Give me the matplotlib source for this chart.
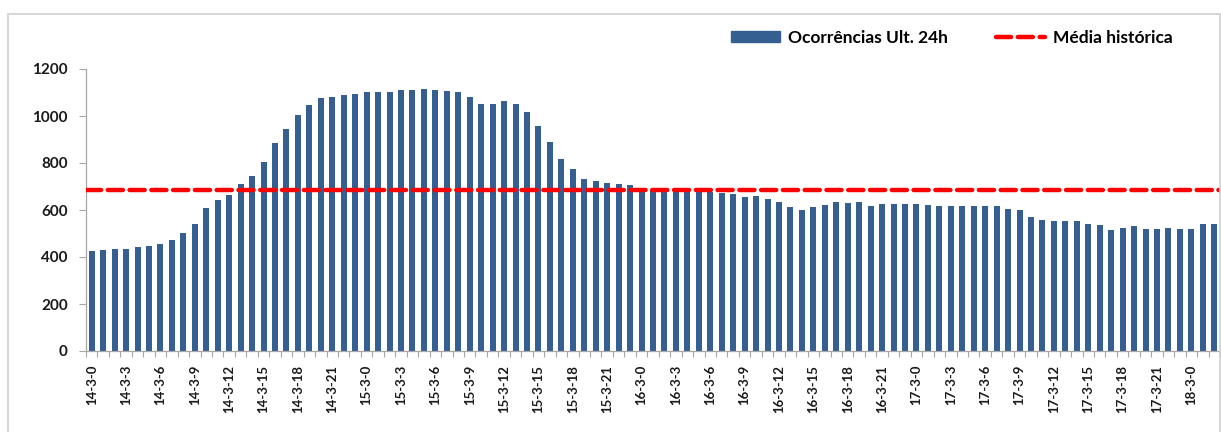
import matplotlib
matplotlib.use("Agg")
import matplotlib.pyplot as plt
from matplotlib.patches import Rectangle
from matplotlib.lines import Line2D

plt.rcParams['font.family'] = ['Lato', 'DejaVu Sans']

# Hourly occurrences over the last 24h, starting 14-3 at 0h
start_day = 14
month = 3
occurrences = [
    427, 431, 435, 435, 444, 448, 457, 471, 501, 540,
    610, 641, 664, 709, 746, 803, 884, 946, 1004, 1048,
    1075, 1082, 1088, 1092, 1103, 1103, 1103, 1109, 1109, 1113,
    1109, 1105, 1101, 1081, 1051, 1051, 1064, 1051, 1016, 959,
    891, 818, 774, 731, 722, 714, 712, 708, 692, 685,
    689, 683, 683, 675, 678, 673, 666, 657, 661, 646,
    633, 612, 600, 612, 620, 632, 629, 633, 617, 625,
    625, 625, 625, 621, 616, 616, 616, 616, 616, 616,
    604, 600, 572, 556, 552, 552, 552, 540, 535, 515,
    523, 530, 519, 519, 523, 519, 519, 539, 539,
]
historical_mean = 683

hours = list(range(len(occurrences)))
labels = [f"{start_day + h // 24}-{month}-{h % 24}" for h in hours]

bar_color = '#365F91'
line_color = '#FF0000'
axis_grey = '#A6A6A6'
dash = (0, (3.4, 1.5))

fig = plt.figure(figsize=(12.21, 4.32), dpi=100)
ax = fig.add_axes([86 / 1221, 1 - 351 / 432, (1220 - 86) / 1221, (351 - 69) / 432])

ax.bar(hours, occurrences, width=0.52, color=bar_color, zorder=2)
ax.axhline(historical_mean, color=line_color, lw=3.2, ls=dash,
           dash_capstyle='round', zorder=3)

ax.set_xlim(-0.5, len(occurrences) - 0.5)
ax.set_ylim(0, 1200)
ax.set_yticks(range(0, 1201, 200))
ax.set_yticklabels([str(v) for v in range(0, 1201, 200)], fontsize=11,
                   fontweight='bold', color='#1a1a1a')

ax.set_xticks(hours[::3])
ax.set_xticklabels(labels[::3], rotation=90, fontsize=9.5, fontweight='bold',
                   va='top', ha='center', color='#1a1a1a')
ax.set_xticks([h - 0.5 for h in hours] + [len(hours) - 0.5], minor=True)
ax.tick_params(axis='x', which='major', length=0, pad=10)
ax.tick_params(axis='x', which='minor', length=4, color=axis_grey, width=0.8)
ax.tick_params(axis='y', length=5, color=axis_grey, width=0.8, pad=8)

for side in ('top', 'right'):
    ax.spines[side].set_visible(False)
for side in ('left', 'bottom'):
    ax.spines[side].set_color(axis_grey)
    ax.spines[side].set_linewidth(0.9)

# outer chart frame
fig.patches.append(Rectangle((8 / 1221, -0.01), 1212 / 1221, 1 - 14 / 432 + 0.01,
                             transform=fig.transFigure, fill=False,
                             edgecolor='#D0D0D0', lw=1.2))

handles = [
    Rectangle((0, 0), 1, 1, color=bar_color),
    Line2D([0], [0], color=line_color, lw=3.2, ls=dash,
           dash_capstyle='round'),
]
fig.legend(handles, ['Ocorrências Ult. 24h', 'Média histórica'],
           loc='center', bbox_to_anchor=(952 / 1221, 1 - 38 / 432), ncol=2,
           frameon=False, prop={'weight': 'bold', 'size': 12.5},
           handlelength=2.8, handleheight=0.6, columnspacing=2.8,
           handletextpad=0.45)

fig.savefig('out.png', dpi=100)
